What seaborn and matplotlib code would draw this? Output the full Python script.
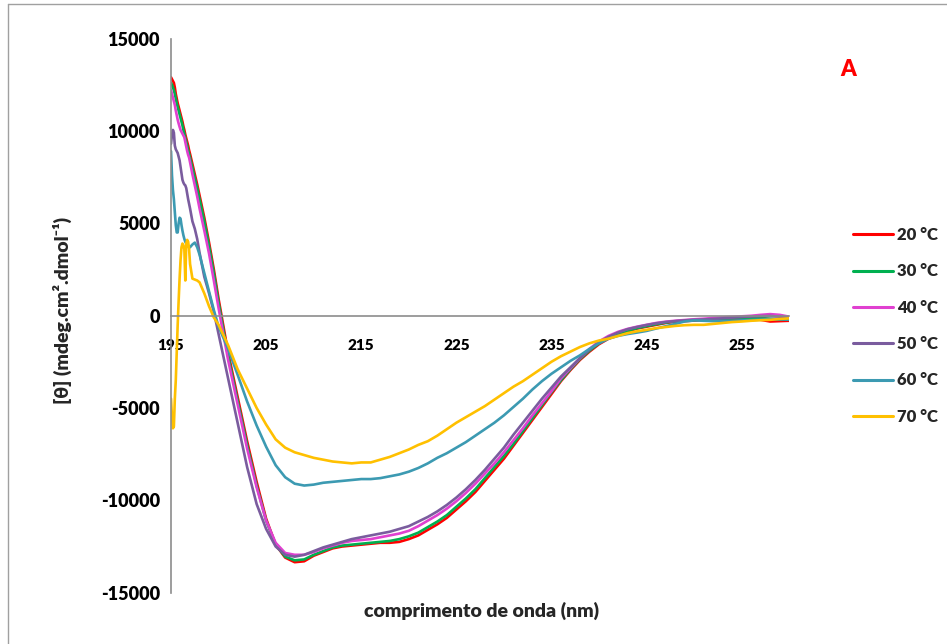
import matplotlib
matplotlib.use("Agg")
import matplotlib.pyplot as plt
import pandas as pd
import seaborn as sns
from matplotlib.lines import Line2D

# ---------------- data ----------------
wavelength = [195.0, 195.1, 195.2, 195.3, 195.4, 195.5, 195.6, 195.7, 195.8, 195.9,
              196.0, 196.1, 196.2, 196.3, 196.4, 196.5, 196.6, 196.7, 196.8, 196.9,
              197.0, 197.25, 197.5, 197.75, 198.0, 198.5, 199.0, 199.5, 200.0,
              201, 202, 203, 204, 205, 206, 207, 208, 209, 210,
              211, 212, 213, 214, 215, 216, 217, 218, 219, 220,
              221, 222, 223, 224, 225, 226, 227, 228, 229, 230,
              231, 232, 233, 234, 235, 236, 237, 238, 239, 240,
              241, 242, 243, 244, 245, 246, 247, 248, 249, 250,
              251, 252, 253, 254, 255, 256, 257, 258, 259, 260]

cd_20 = [12900, 12800, 12700, 12600, 12350, 12000, 11750, 11500, 11300, 11100,
         10900, 10700, 10500, 10250, 10050, 9800, 9600, 9400, 9200, 8950,
         8750, 8200, 7650, 7100, 6500, 5300, 3950, 2500, 900,
         -2000, -4400, -6800, -9000, -11000, -12400, -13100, -13350, -13300, -13000,
         -12800, -12600, -12500, -12450, -12400, -12350, -12300, -12300, -12250, -12100,
         -11900, -11600, -11300, -10950, -10500, -10050, -9550, -8950, -8350, -7750,
         -7050, -6350, -5650, -4950, -4250, -3550, -2950, -2400, -1950, -1550,
         -1250, -1050, -850, -700, -600, -500, -400, -330, -300, -270,
         -240, -220, -200, -180, -170, -180, -230, -320, -300, -280]

cd_30 = [12600, 12500, 12350, 12200, 12000, 11750, 11500, 11300, 11100, 10900,
         10700, 10500, 10300, 10050, 9850, 9600, 9400, 9200, 8950, 8750,
         8550, 8000, 7450, 6900, 6300, 5100, 3750, 2300, 700,
         -2200, -4600, -7000, -9200, -11100, -12400, -13050, -13250, -13200, -12950,
         -12750, -12550, -12450, -12400, -12350, -12300, -12250, -12200, -12100, -11950,
         -11750, -11450, -11150, -10800, -10350, -9900, -9400, -8800, -8200, -7600,
         -6950, -6250, -5550, -4850, -4150, -3500, -2900, -2350, -1900, -1500,
         -1200, -1000, -820, -680, -570, -470, -380, -310, -270, -240,
         -210, -190, -170, -150, -130, -120, -130, -170, -200, -220]

cd_40 = [12200, 12000, 11800, 11600, 11400, 11100, 10850, 10600, 10400, 10220,
         10050, 9950, 9850, 9750, 9650, 9400, 9150, 8900, 8700, 8550,
         8300, 7650, 7050, 6450, 5800, 4600, 3350, 1900, 400,
         -2400, -4800, -7200, -9300, -11100, -12300, -12850, -12950, -12950, -12800,
         -12600, -12450, -12300, -12200, -12150, -12100, -12000, -11900, -11800, -11650,
         -11400, -11100, -10800, -10450, -10050, -9600, -9100, -8550, -8000, -7400,
         -6750, -6100, -5400, -4750, -4100, -3400, -2850, -2300, -1800, -1400,
         -1100, -880, -720, -600, -500, -400, -330, -280, -240, -200,
         -170, -130, -100, -70, -40, -10, 40, 80, 40, -60]

cd_50 = [9300, 9800, 10050, 9900, 9200, 9000, 8900, 8800, 8600, 8400,
         8050, 7700, 7350, 7200, 7100, 7050, 6900, 6600, 6300, 6050,
         5800, 5100, 4700, 4150, 3400, 2100, 1200, 200, -1000,
         -3400, -5800, -8200, -10200, -11550, -12500, -12950, -13050, -12950, -12750,
         -12550, -12400, -12250, -12100, -12000, -11900, -11800, -11700, -11550, -11400,
         -11150, -10900, -10600, -10250, -9850, -9400, -8900, -8350, -7750, -7150,
         -6450, -5800, -5150, -4500, -3900, -3300, -2800, -2300, -1850, -1450,
         -1150, -920, -740, -620, -510, -420, -350, -300, -260, -230,
         -210, -180, -150, -110, -80, -50, -30, -20, -60, -110]

cd_60 = [8900, 7600, 6800, 6300, 5600, 4900, 4500, 4500, 5000, 5300,
         5250, 4900, 4600, 4350, 4150, 4000, 3900, 3850, 3750, 3700,
         3700, 3850, 3950, 3700, 3300, 2300, 1300, 300, -600,
         -1800, -3200, -4650, -5950, -7100, -8100, -8750, -9100, -9200, -9150,
         -9050, -9000, -8950, -8900, -8850, -8850, -8800, -8700, -8600, -8450,
         -8250, -8000, -7700, -7450, -7150, -6850, -6500, -6150, -5800, -5400,
         -4950, -4500, -4000, -3550, -3150, -2800, -2450, -2150, -1800, -1500,
         -1250, -1100, -1000, -920, -830, -700, -580, -450, -320, -260,
         -280, -300, -300, -280, -260, -240, -220, -200, -200, -220]

cd_70 = [-4500, -5500, -6100, -6000, -4500, -3500, -2000, -500, 800, 2000,
         3000, 3700, 3900, 3800, 3600, 1900, 3900, 4100, 4000, 3600,
         2800, 2000, 1950, 1900, 1800, 1200, 500, -100, -500,
         -1600, -2900, -3950, -5000, -5900, -6700, -7150, -7400, -7550, -7700,
         -7800, -7900, -7950, -8000, -7950, -7950, -7800, -7650, -7450, -7250,
         -7000, -6800, -6500, -6150, -5800, -5500, -5200, -4900, -4550, -4200,
         -3850, -3550, -3200, -2850, -2500, -2200, -1950, -1700, -1500, -1350,
         -1250, -1100, -950, -850, -770, -680, -620, -560, -520, -500,
         -500, -450, -400, -350, -320, -280, -250, -230, -180, -150]

temperatures = ["20 °C", "30 °C", "40 °C", "50 °C", "60 °C", "70 °C"]
series = [cd_20, cd_30, cd_40, cd_50, cd_60, cd_70]
colors = ["#FF0000", "#00B050", "#E040D0", "#7A5C9E", "#3C9AB2", "#FFC000"]

x_ticks = [195, 205, 215, 225, 235, 245, 255]
y_ticks = [-15000, -10000, -5000, 0, 5000, 10000, 15000]

# ---------------- figure ----------------
sns.set_theme(style="white")
plt.rcParams["font.family"] = ["Lato", "DejaVu Sans"]
plt.rcParams["font.weight"] = "heavy"
W = "heavy"

df = pd.concat([pd.DataFrame({"wl": wavelength, "cd": v, "temp": t})
                for t, v in zip(temperatures, series)], ignore_index=True)

fig = plt.figure(figsize=(9.47, 6.44), dpi=100)
ax = fig.add_axes([0.1806, 0.0797, 0.6528, 0.8605])

sns.lineplot(data=df, x="wl", y="cd", hue="temp", hue_order=temperatures,
             palette=colors, sort=False, estimator=None, linewidth=1.9, ax=ax)

ax.set_xlim(195, 260)
ax.set_ylim(-15000, 15000)
ax.set_xticks(x_ticks)
ax.set_yticks(y_ticks)
ax.set_xticklabels([str(t) for t in x_ticks], fontsize=13, fontweight=W)
ax.set_yticklabels([str(t) for t in y_ticks], fontsize=13, fontweight=W)
ax.set_xlabel("")
ax.set_ylabel("")

for s in ["top", "right"]:
    ax.spines[s].set_visible(False)
ax.spines["bottom"].set_position(("data", 0))
for s in ["left", "bottom"]:
    ax.spines[s].set_color("#8C8C8C")
    ax.spines[s].set_linewidth(1.2)
ax.tick_params(axis="both", which="major", direction="out",
               width=1.2, color="#8C8C8C", labelcolor="black")
ax.tick_params(axis="x", length=5, pad=11.5)
ax.tick_params(axis="y", length=4, pad=4)
ax.grid(False)

leg = ax.legend(loc="upper left", bbox_to_anchor=(853 / 947, 1 - 227 / 644),
                bbox_transform=fig.transFigure, frameon=False,
                prop={"size": 12, "weight": W}, handlelength=2.4,
                handletextpad=0.25, labelspacing=1.22, borderaxespad=0,
                borderpad=0)
for line in leg.get_lines():
    line.set_linewidth(2.2)

fig.text(482 / 947, 1 - 611 / 644, "comprimento de onda (nm)", ha="center",
         va="center", fontsize=14, fontweight=W)
fig.text(62 / 947, 1 - 310 / 644, "[θ] (mdeg.cm².dmol⁻¹)", ha="center",
         va="center", rotation=90, fontsize=14, fontweight=W)
fig.text(848 / 947, 1 - 70 / 644, "A", ha="center", va="center",
         fontsize=16, fontweight=W, color="#FF0000")

# outer frame (left and top edges visible in the reference)
fig.add_artist(Line2D([8 / 947, 8 / 947], [0, 1 - 4 / 644],
                      transform=fig.transFigure, color="#A0A0A0", lw=1.0))
fig.add_artist(Line2D([8 / 947, 1], [1 - 4 / 644, 1 - 4 / 644],
                      transform=fig.transFigure, color="#A0A0A0", lw=1.0))

fig.savefig("out.png", dpi=100)
